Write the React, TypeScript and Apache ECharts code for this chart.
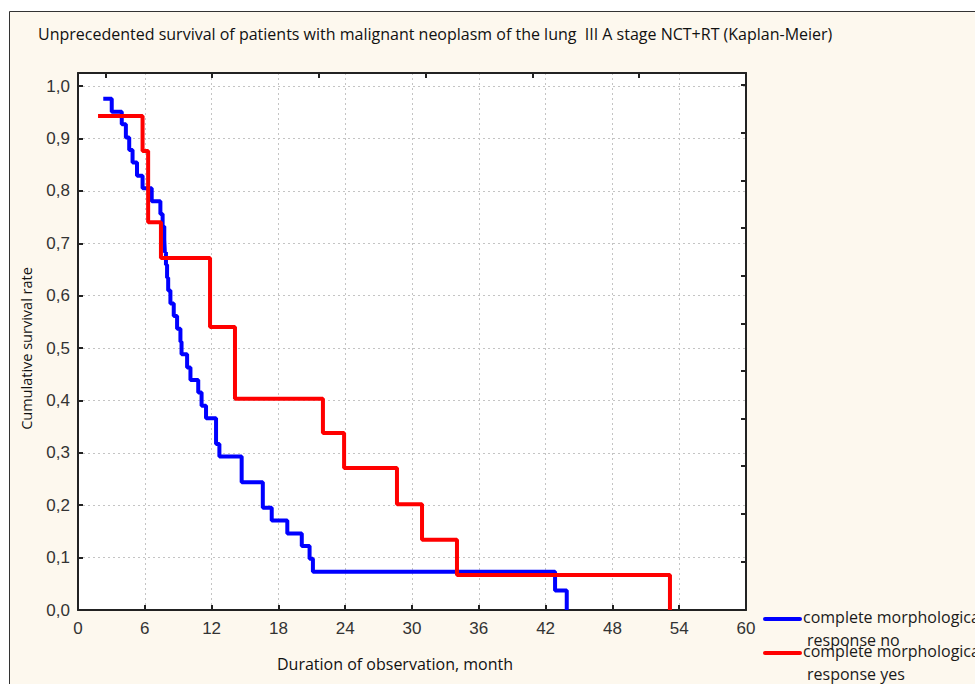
import React, { useEffect, useRef } from "react";
import * as echarts from "echarts";

const titleText =
  "Unprecedented survival of patients with malignant neoplasm of the lung  III A stage NCT+RT (Kaplan-Meier)";
const xAxisName = "Duration of observation, month";
const yAxisName = "Cumulative survival rate";
const seriesNames = ["complete morphological response no", "complete morphological response yes"];
const legendLine1 = ["complete morphological", "complete morphological"];
const legendLine2 = ["response no", "response yes"];
const seriesColors = ["#0000ff", "#ff0000"];

// response no (blue)
const blueTimes = [
  2.27, 3.03, 3.93, 4.3, 4.6, 4.9, 5.3, 5.8, 6.62, 7.4, 7.6, 7.75, 7.8, 7.9, 8.0, 8.1, 8.3, 8.6, 8.9, 9.2,
  9.3, 9.8, 10.1, 10.8, 11.1, 11.5, 12.4, 12.7, 14.7, 16.6, 17.4, 18.8, 20.1, 20.8, 21.1, 42.85, 43.9,
];
const blueSurvival = [
  0.976, 0.951, 0.927, 0.902, 0.878, 0.854, 0.829, 0.805, 0.78, 0.756, 0.732, 0.707, 0.683, 0.659, 0.634,
  0.61, 0.585, 0.561, 0.537, 0.512, 0.488, 0.463, 0.439, 0.415, 0.39, 0.366, 0.317, 0.293, 0.244, 0.195,
  0.171, 0.146, 0.122, 0.098, 0.073, 0.037, 0,
];

// response yes (red)
const redTimes = [1.8, 5.8, 6.3, 7.45, 11.86, 14.1, 22.0, 23.9, 28.65, 30.9, 34.04, 53.17];
const redSurvival = [0.943, 0.876, 0.74, 0.672, 0.54, 0.403, 0.338, 0.271, 0.202, 0.134, 0.067, 0];

const topTickValues = [2.5, 12.05, 21.65, 31.2, 40.85, 50.4];
const rightTickValues = [0.093, 0.184, 0.275, 0.366, 0.456, 0.547, 0.638, 0.73, 0.82, 0.911, 1.002];

export default function App() {
  const ref = useRef<HTMLDivElement>(null);
  useEffect(() => {
    document.body.style.margin = "0";
    const chart = echarts.init(ref.current!, null, { renderer: "svg" });
    const tickFont = "'Liberation Sans', Arial, sans-serif";
    const textFont = "'Open Sans', 'Noto Sans', sans-serif";
    const blueData = blueTimes.map((t, i) => [t, blueSurvival[i]]);
    const redData = redTimes.map((t, i) => [t, redSurvival[i]]);

    const legendGraphics: any[] = [];
    [0, 1].forEach((i) => {
      const baseY = 619 + i * 34;
      legendGraphics.push({
        type: "line",
        shape: { x1: 765, y1: baseY, x2: 800, y2: baseY },
        style: { stroke: seriesColors[i], lineWidth: 4, lineCap: "round" },
        z: 10,
      });
      legendGraphics.push({
        type: "text",
        x: 803,
        y: baseY - 2,
        style: {
          text: legendLine1[i],
          font: `16px ${textFont}`,
          lineHeight: 16,
          fill: "#1a1a1a",
          verticalAlign: "middle",
          align: "left",
        },
        z: 10,
      });
      legendGraphics.push({
        type: "text",
        x: 807,
        y: baseY + 21,
        style: {
          text: legendLine2[i],
          font: `16px ${textFont}`,
          lineHeight: 16,
          fill: "#1a1a1a",
          verticalAlign: "middle",
          align: "left",
        },
        z: 10,
      });
    });

    chart.setOption({
      animation: false,
      backgroundColor: "#ffffff",
      title: {
        text: titleText,
        left: 33,
        top: 21,
        textStyle: { fontFamily: textFont, fontSize: 16, fontWeight: "normal", color: "#111" },
      },
      grid: {
        left: 78,
        top: 73,
        width: 668,
        height: 537,
        show: true,
        backgroundColor: "#ffffff",
        borderWidth: 0,
      },
      xAxis: [
        {
          type: "value",
          min: 0,
          max: 60,
          interval: 6,
          name: xAxisName,
          nameLocation: "middle",
          nameGap: 46,
          nameTextStyle: { fontFamily: textFont, fontSize: 16, color: "#111", padding: [0, 34, 0, 0] },
          axisLine: { show: true, lineStyle: { color: "#222", width: 2 } },
          axisTick: { show: true, inside: true, length: 5, lineStyle: { color: "#222", width: 2 } },
          axisLabel: { fontFamily: tickFont, fontSize: 17, color: "#333", margin: 10 },
          splitLine: { show: true, lineStyle: { color: "#c4c4c4", type: [2, 3], width: 1 } },
        },
        {
          type: "value",
          position: "top",
          min: 0,
          max: 60,
          axisLine: { show: true, onZero: false, lineStyle: { color: "#222", width: 2 } },
          axisTick: {
            show: true,
            inside: true,
            length: 5,
            customValues: topTickValues,
            lineStyle: { color: "#222", width: 2 },
          },
          axisLabel: { show: false },
          splitLine: { show: false },
        },
      ],
      yAxis: [
        {
          type: "value",
          min: 0,
          max: 1.025,
          interval: 0.1,
          name: yAxisName,
          nameLocation: "middle",
          nameGap: 44,
          nameTextStyle: { fontFamily: textFont, fontSize: 14.5, color: "#111", padding: [0, 14, 0, 0] },
          axisLine: { show: true, lineStyle: { color: "#222", width: 2 } },
          axisTick: { show: true, inside: true, length: 5, lineStyle: { color: "#222", width: 2 } },
          axisLabel: {
            fontFamily: tickFont,
            fontSize: 17,
            color: "#333",
            margin: 8,
            showMaxLabel: false,
            formatter: (v: number) => {
              const k = Math.round(v * 10);
              if (Math.abs(v * 10 - k) > 0.001) return "";
              return (k / 10).toFixed(1).replace(".", ",");
            },
          },
          splitLine: { show: true, lineStyle: { color: "#c4c4c4", type: [2, 3], width: 1 } },
        },
        {
          type: "value",
          position: "right",
          min: 0,
          max: 1.025,
          axisLine: { show: true, onZero: false, lineStyle: { color: "#222", width: 2 } },
          axisTick: {
            show: true,
            inside: true,
            length: 5,
            customValues: rightTickValues,
            lineStyle: { color: "#222", width: 2 },
          },
          axisLabel: { show: false },
          splitLine: { show: false },
        },
      ],
      graphic: [
        {
          type: "rect",
          shape: { x: 9.5, y: 11.5, width: 1000, height: 700 },
          style: { fill: "#fdf8ee", stroke: "#333", lineWidth: 1 },
          z: -10,
          silent: true,
        },
        ...legendGraphics,
      ],
      series: [
        {
          name: seriesNames[0],
          type: "line",
          step: "end",
          data: blueData,
          symbol: "none",
          lineStyle: { color: seriesColors[0], width: 4 },
          z: 3,
        },
        {
          name: seriesNames[1],
          type: "line",
          step: "end",
          data: redData,
          symbol: "none",
          lineStyle: { color: seriesColors[1], width: 4 },
          z: 4,
        },
      ],
    });
    return () => chart.dispose();
  }, []);
  return <div ref={ref} style={{ width: 975, height: 684 }} />;
}
